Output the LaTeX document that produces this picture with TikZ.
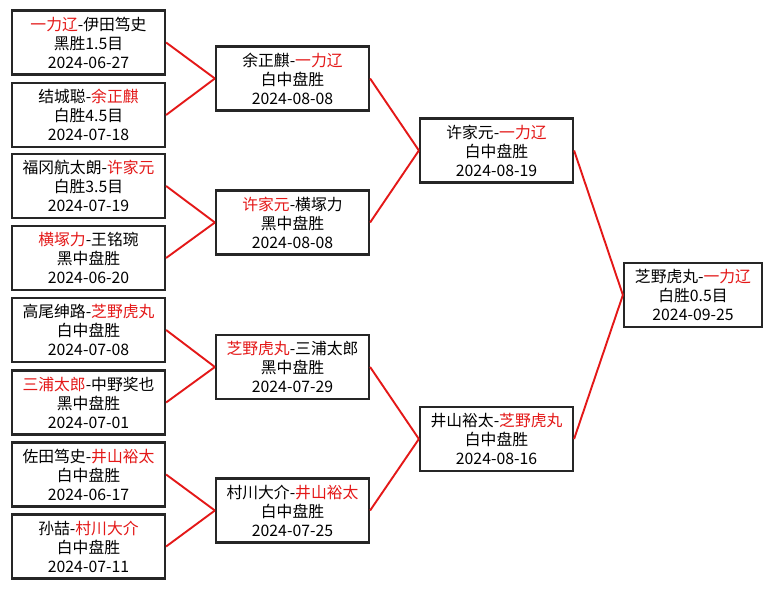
\documentclass[tikz,border=0pt]{standalone}
\usepackage{fontspec}
\setmainfont{Noto Sans CJK SC}

\definecolor{rouge}{RGB}{228,24,24}
\newcommand{\winner}[1]{\textcolor{rouge}{#1}}

\tikzset{
    match/.style={draw=black!85, line width=2.2pt, fill=white,
        minimum width=153pt, minimum height=64pt, inner sep=0pt,
        align=center, font=\fontsize{15.8}{19}\selectfont},
    final/.style={match, minimum width=138pt},
    lien/.style={draw=rouge, line width=1.9pt}
}

\begin{document}
\begin{tikzpicture}[x=1pt, y=-1pt]

\useasboundingbox[fill=white] (0,0) rectangle (772,589);

% Premier tour
\node[match] (r1a) at (88.5,42.5)  {\winner{一力辽}-伊田笃史\\黑胜1.5目\\2024-06-27};
\node[match] (r1b) at (88.5,115)   {结城聪-\winner{余正麒}\\白胜4.5目\\2024-07-18};
\node[match] (r1c) at (88.5,186)   {福冈航太朗-\winner{许家元}\\白胜3.5目\\2024-07-19};
\node[match] (r1d) at (88.5,258)   {\winner{横塚力}-王铭琬\\黑中盘胜\\2024-06-20};
\node[match] (r1e) at (88.5,330)   {高尾绅路-\winner{芝野虎丸}\\白中盘胜\\2024-07-08};
\node[match] (r1f) at (88.5,402.5) {\winner{三浦太郎}-中野奖也\\黑中盘胜\\2024-07-01};
\node[match] (r1g) at (88.5,474.5) {佐田笃史-\winner{井山裕太}\\白中盘胜\\2024-06-17};
\node[match] (r1h) at (88.5,546.5) {孙喆-\winner{村川大介}\\白中盘胜\\2024-07-11};

% Deuxieme tour
\node[match] (r2a) at (292.5,78.5)  {余正麒-\winner{一力辽}\\白中盘胜\\2024-08-08};
\node[match] (r2b) at (292.5,222.5) {\winner{许家元}-横塚力\\黑中盘胜\\2024-08-08};
\node[match] (r2c) at (292.5,367)   {\winner{芝野虎丸}-三浦太郎\\黑中盘胜\\2024-07-29};
\node[match] (r2d) at (292.5,510.5) {村川大介-\winner{井山裕太}\\白中盘胜\\2024-07-25};

% Demi-finales
\node[match] (r3a) at (496.5,150.5) {许家元-\winner{一力辽}\\白中盘胜\\2024-08-19};
\node[match] (r3b) at (496.5,439)   {井山裕太-\winner{芝野虎丸}\\白中盘胜\\2024-08-16};

% Finale
\node[final] (r4) at (693,295) {芝野虎丸-\winner{一力辽}\\白胜0.5目\\2024-09-25};

% Liens
\foreach \a/\b in {r1a/r2a, r1b/r2a, r1c/r2b, r1d/r2b,
                   r1e/r2c, r1f/r2c, r1g/r2d, r1h/r2d,
                   r2a/r3a, r2b/r3a, r2c/r3b, r2d/r3b,
                   r3a/r4, r3b/r4}
{
    \draw[lien] (\a.east) -- (\b.west);
}

\end{tikzpicture}
\end{document}
